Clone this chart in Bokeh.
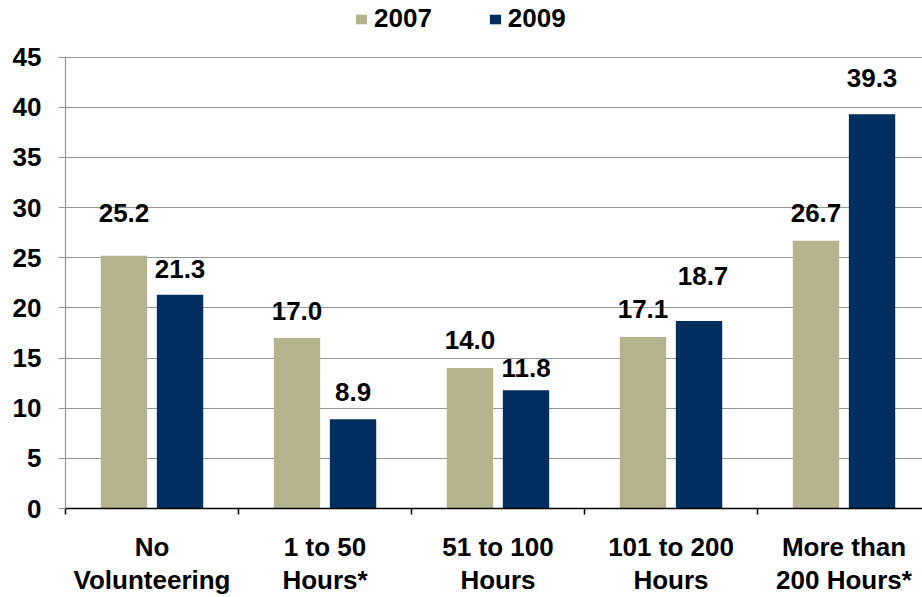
from bokeh.plotting import figure
from bokeh.models import (ColumnDataSource, Range1d, FixedTicker, Legend, LegendItem,
                          LabelSet)
from bokeh.core.properties import value
from bokeh.transform import dodge
from bokeh.embed import file_html
from bokeh.resources import INLINE

# ---- data ----
categories = ["No\nVolunteering", "1 to 50\nHours*", "51 to 100\nHours",
              "101 to 200\nHours", "More than\n200 Hours*"]
series_names = ["2007", "2009"]
values_2007 = [25.2, 17.0, 14.0, 17.1, 26.7]
values_2009 = [21.3, 8.9, 11.8, 18.7, 39.3]
y_ticks = [0, 5, 10, 15, 20, 25, 30, 35, 40, 45]

# ---- style ----
FONT = "Liberation Sans"
C2007 = "#B3B48D"
C2009 = "#002E5E"
GRID = "#969696"
# label placement (screen px above bar top) as in the reference
lab_off_2007 = [43, 27, 28, 28, 28]
lab_off_2009 = [26, 27, 22, 45, 36]
lab_dx_2009 = [0, 0, 0, 4, 0]

n = len(categories)
xs = [i + 0.5 for i in range(n)]
src = ColumnDataSource(dict(
    x=xs,
    v2007=values_2007, v2009=values_2009,
    t2007=[f"{v:.1f}" for v in values_2007],
    t2009=[f"{v:.1f}" for v in values_2009],
    o2007=lab_off_2007, o2009=lab_off_2009, dx2009=lab_dx_2009,
))

W, H = 922, 597
left, bottom = 65, 86
cat_px = 173.0
y_max = y_ticks[-1]
px_per_unit = 454.0 / y_max
frame_h = H - bottom
p = figure(width=W, height=H, output_backend="svg", toolbar_location=None,
           x_range=Range1d(0, (W - left) / cat_px),
           y_range=Range1d(0, frame_h / px_per_unit),
           min_border_left=left, min_border_right=0, min_border_top=0,
           min_border_bottom=bottom)
p.outline_line_color = None
p.background_fill_color = "white"
p.border_fill_color = "white"

BW = 0.268
OFF = 0.162
r1 = p.vbar(x=dodge("x", -OFF), top="v2007", width=BW, source=src,
            fill_color=C2007, line_color=None)
r2 = p.vbar(x=dodge("x", OFF), top="v2009", width=BW, source=src,
            fill_color=C2009, line_color=None)

for col, off, txt, ycol, dx in [(-OFF, "o2007", "t2007", "v2007", None),
                                (OFF, "o2009", "t2009", "v2009", "dx2009")]:
    kw = dict(x_offset=dx) if dx else {}
    ls = LabelSet(x=dodge("x", col), y=ycol,
                  text=txt, y_offset=off, source=src, text_align="center",
                  text_baseline="middle", text_font=value(FONT), text_font_size="26px",
                  text_font_style="bold", text_color="black", **kw)
    p.add_layout(ls)

# y axis
p.yaxis.ticker = FixedTicker(ticks=y_ticks)
p.yaxis.bounds = (0, y_max)
p.yaxis.axis_line_color = GRID
p.yaxis.axis_line_width = 1.2
p.yaxis.major_tick_line_color = GRID
p.yaxis.major_tick_line_width = 1.2
p.yaxis.major_tick_out = 7
p.yaxis.major_tick_in = 0
p.yaxis.minor_tick_line_color = None
p.yaxis.major_label_standoff = 17
p.yaxis.major_label_text_font = FONT
p.yaxis.major_label_text_font_size = "26px"
p.yaxis.major_label_text_font_style = "bold"
p.yaxis.major_label_text_color = "black"

p.ygrid.grid_line_color = GRID
p.ygrid.grid_line_width = 1.2
p.xgrid.grid_line_color = None

# x axis
p.xaxis.ticker = FixedTicker(ticks=xs, minor_ticks=list(range(n + 1)))
p.xaxis.major_label_overrides = {x: c for x, c in zip(xs, categories)}
p.xaxis.axis_line_color = "black"
p.xaxis.axis_line_width = 1.5
p.xaxis.major_tick_line_color = None
p.xaxis.major_tick_out = 0
p.xaxis.major_tick_in = 0
p.xaxis.minor_tick_line_color = "black"
p.xaxis.minor_tick_line_width = 1.5
p.xaxis.minor_tick_out = 6
p.xaxis.minor_tick_in = 0
p.xaxis.major_label_standoff = 17
p.xaxis.major_label_text_font = FONT
p.xaxis.major_label_text_font_size = "26px"
p.xaxis.major_label_text_font_style = "bold"
p.xaxis.major_label_text_color = "black"
p.xaxis.major_label_text_line_height = 1.1

legend = Legend(items=[LegendItem(label=series_names[0], renderers=[r1]),
                       LegendItem(label=series_names[1], renderers=[r2])],
                orientation="horizontal", location=(289, 474),
                glyph_width=14, glyph_height=12, label_standoff=6, spacing=56,
                padding=0, margin=0, border_line_color=None,
                background_fill_alpha=0, label_text_font=FONT,
                label_text_font_size="26px", label_text_font_style="bold",
                label_text_color="black")
p.add_layout(legend, "center")

open("out.html", "w").write(file_html(p, INLINE))
